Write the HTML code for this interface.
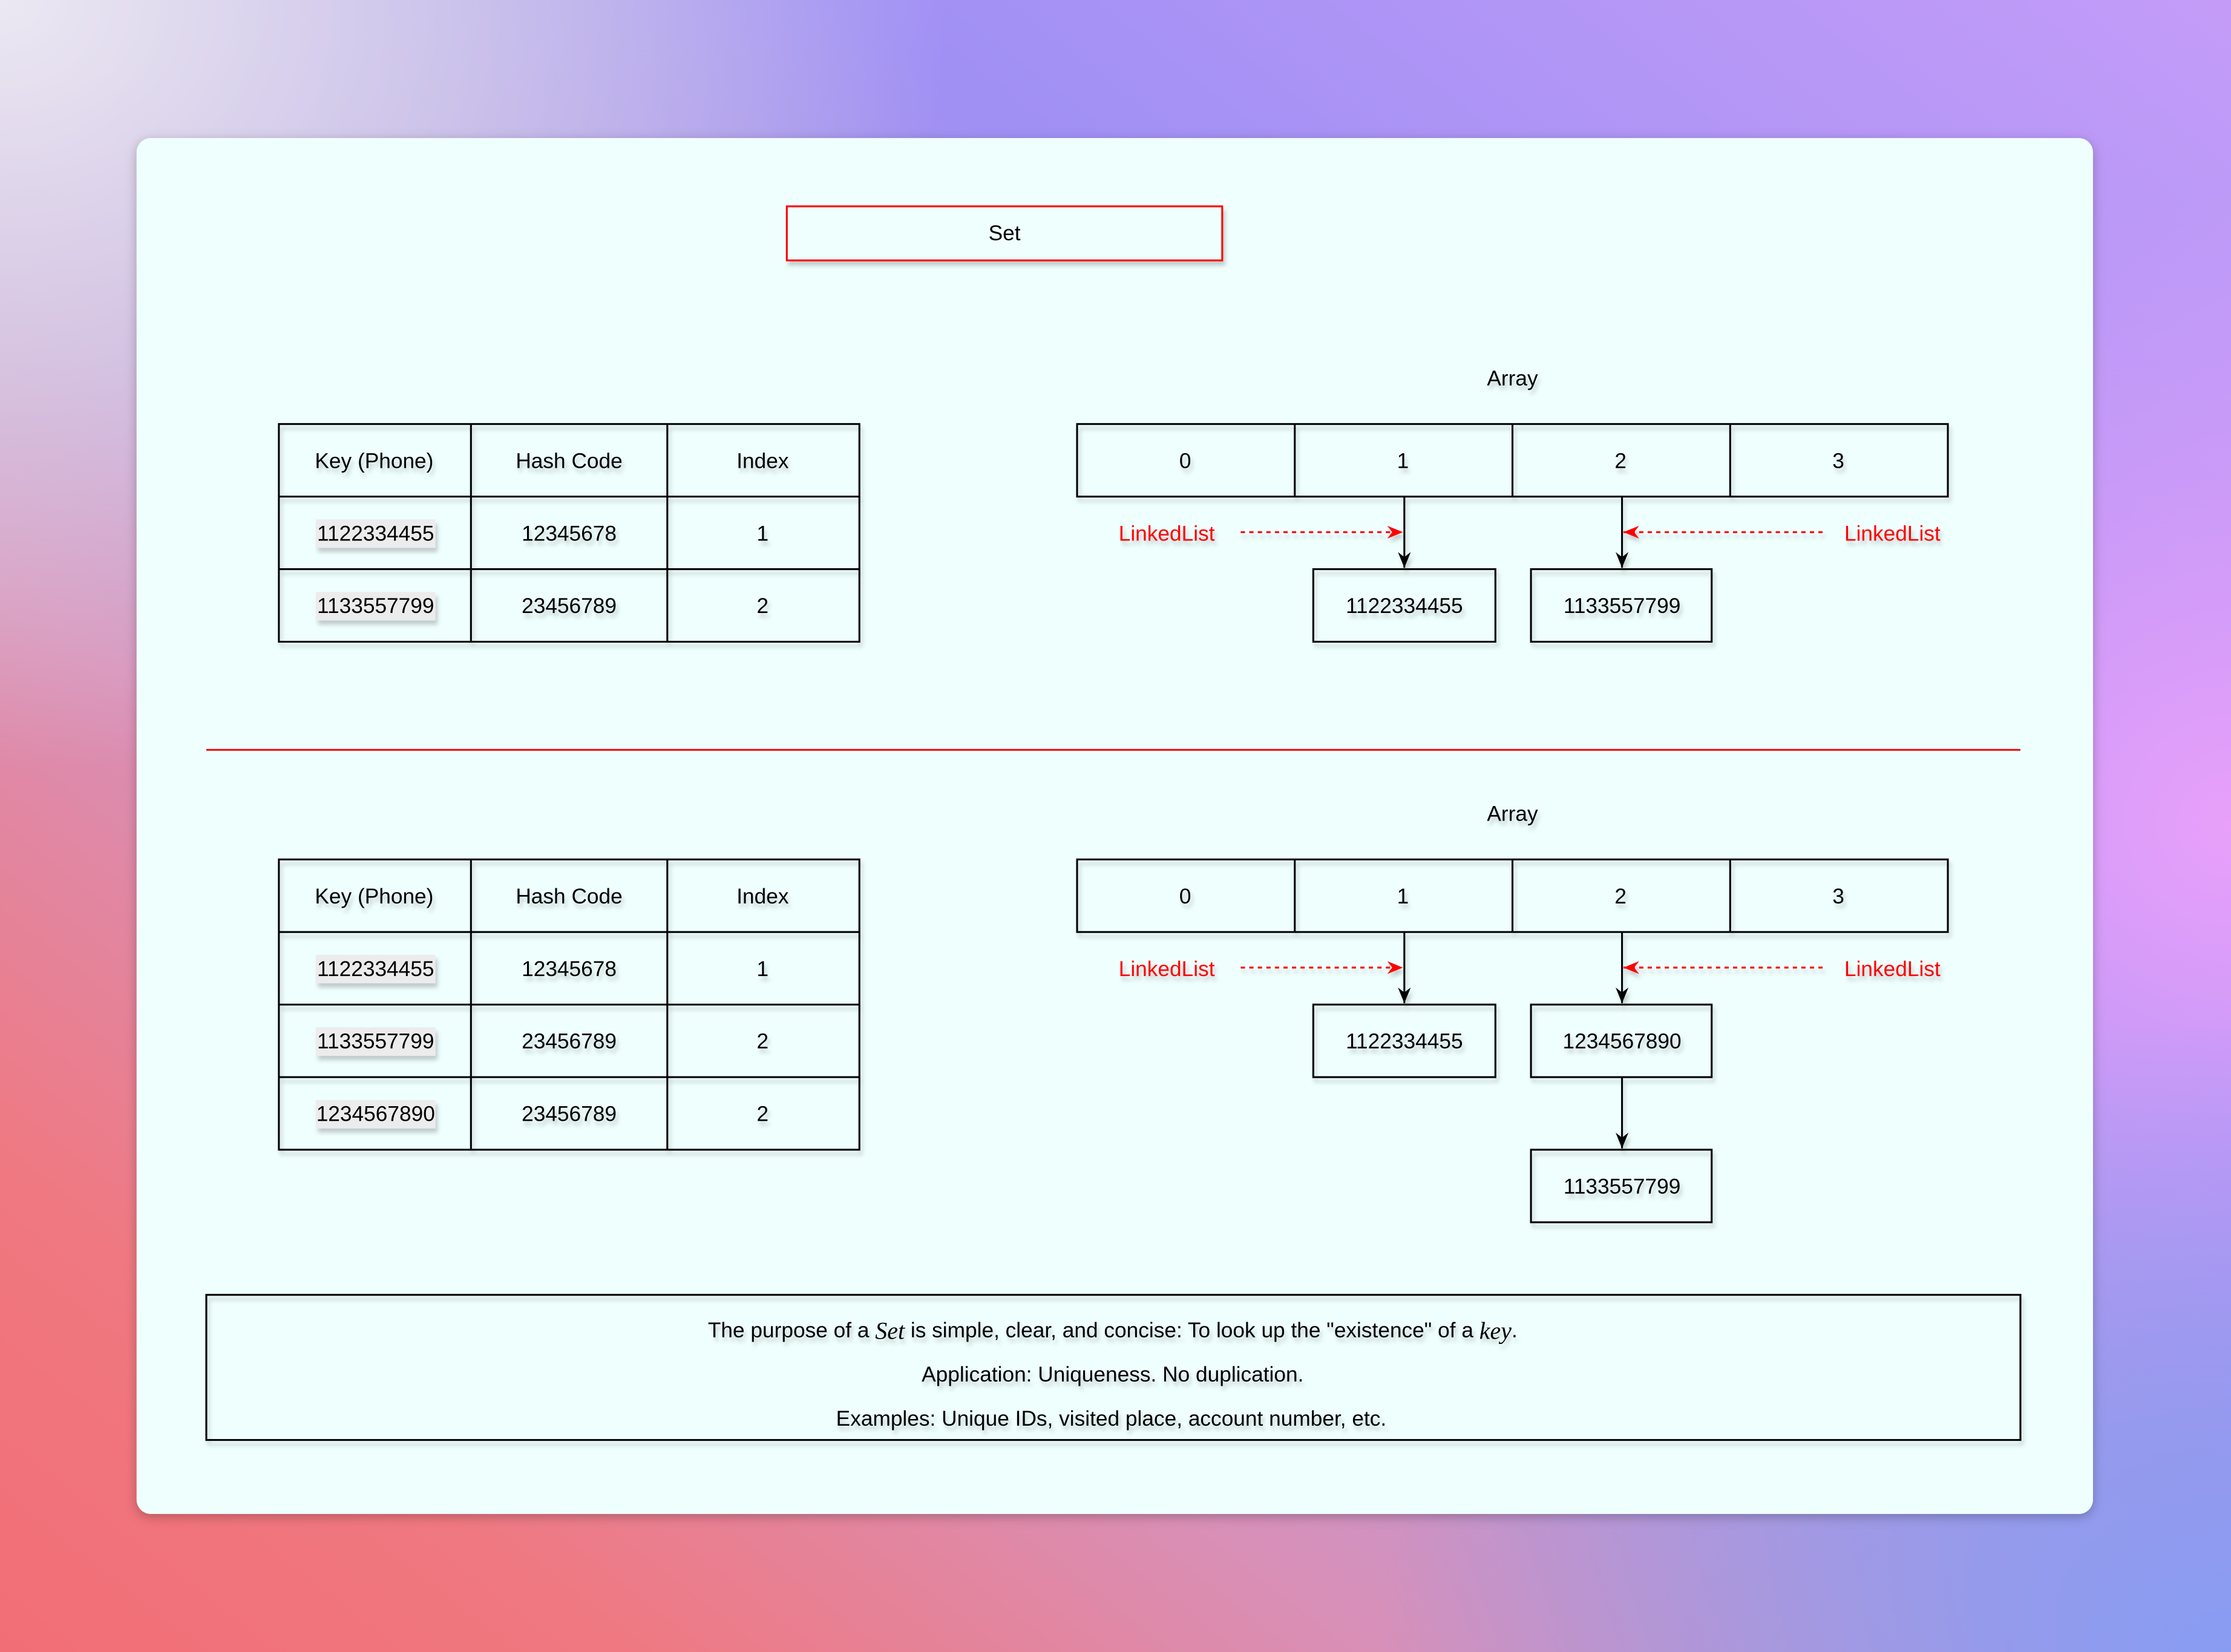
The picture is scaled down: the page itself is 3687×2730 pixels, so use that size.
<!DOCTYPE html>
<html><head><meta charset="utf-8">
<style>
html,body{margin:0;padding:0;width:3687px;height:2730px;overflow:hidden}
body{background:
 radial-gradient(ellipse 50% 55% at 0% 0%, rgba(236,232,242,1) 0%, rgba(220,216,236,0.7) 40%, rgba(236,232,242,0) 85%),
 radial-gradient(ellipse 45% 45% at 100% 100%, rgba(136,156,242,1) 0%, rgba(136,156,242,0) 85%),
 radial-gradient(ellipse 35% 45% at 100% 50%, rgba(232,160,250,1) 0%, rgba(232,160,250,0) 85%),
 linear-gradient(38deg,#f26e76 0%,#f07880 14%,#d890b8 32%,#b098e0 50%,#a090f4 68%,#c49cf8 100%);}
svg{display:block}
text{font-family:"Liberation Sans",Arial,sans-serif;font-size:15px;text-anchor:middle;dominant-baseline:central}
</style></head><body>
<svg width="3687" height="2730" viewBox="0 0 1568 1161" xmlns="http://www.w3.org/2000/svg">
<defs>
<filter id="cs" x="-10%" y="-10%" width="120%" height="120%"><feDropShadow dx="0" dy="2" stdDeviation="4" flood-color="#000" flood-opacity="0.25"/></filter>
<filter id="sh" x="-20%" y="-20%" width="140%" height="160%"><feDropShadow dx="1.5" dy="3" stdDeviation="1.5" flood-color="#000" flood-opacity="0.2"/></filter>
<marker id="ab" markerWidth="12" markerHeight="12" refX="11" refY="6" orient="auto" markerUnits="userSpaceOnUse"><path d="M0,1.5 L11,6 L0,10.5 L3.5,6 Z" fill="#000"/></marker>
<marker id="ar" markerWidth="12" markerHeight="12" refX="11" refY="6" orient="auto" markerUnits="userSpaceOnUse"><path d="M0,1.5 L11,6 L0,10.5 L3.5,6 Z" fill="#f00"/></marker>
</defs>
<rect x="96" y="97" width="1375" height="967" rx="10" fill="#effffe" filter="url(#cs)"/>

<g filter="url(#sh)">
<rect x="553" y="145" width="306" height="38" fill="#effffe" stroke="#f00" stroke-width="1.3"/>
<text x="706" y="164">Set</text>

<g fill="none" stroke="#000" stroke-width="1.3">
<rect x="196" y="298" width="408" height="153"/>
<line x1="331" y1="298" x2="331" y2="451"/><line x1="469" y1="298" x2="469" y2="451"/>
<line x1="196" y1="349" x2="604" y2="349"/><line x1="196" y1="400" x2="604" y2="400"/>
</g>
<text x="263" y="324">Key (Phone)</text><text x="400" y="324">Hash Code</text><text x="536" y="324">Index</text>
<rect x="222" y="365" width="84" height="20" fill="#ececec"/><text x="264" y="375">1122334455</text>
<text x="400" y="375">12345678</text><text x="536" y="375">1</text>
<rect x="222" y="416" width="84" height="20" fill="#ececec"/><text x="264" y="426">1133557799</text>
<text x="400" y="426">23456789</text><text x="536" y="426">2</text>

<text x="1063" y="266">Array</text>
<g fill="none" stroke="#000" stroke-width="1.3">
<rect x="757" y="298" width="612" height="51"/>
<line x1="910" y1="298" x2="910" y2="349"/><line x1="1063" y1="298" x2="1063" y2="349"/><line x1="1216" y1="298" x2="1216" y2="349"/>
<rect x="923" y="400" width="128" height="51"/><rect x="1076" y="400" width="127" height="51"/>
<line x1="987" y1="349" x2="987" y2="399" marker-end="url(#ab)"/>
<line x1="1140" y1="349" x2="1140" y2="399" marker-end="url(#ab)"/>
</g>
<text x="833" y="324">0</text><text x="986" y="324">1</text><text x="1139" y="324">2</text><text x="1292" y="324">3</text>
<text x="987" y="426">1122334455</text><text x="1140" y="426">1133557799</text>
<g stroke="#f00" stroke-width="1.3" stroke-dasharray="3,3" fill="none">
<line x1="872" y1="374" x2="986" y2="374" marker-end="url(#ar)"/>
<line x1="1281" y1="374" x2="1141" y2="374" marker-end="url(#ar)"/>
</g>
<text x="820" y="375" fill="#f00">LinkedList</text><text x="1330" y="375" fill="#f00">LinkedList</text>
</g>

<line x1="145" y1="527" x2="1420" y2="527" stroke="#e00" stroke-width="1.2"/>

<g filter="url(#sh)">
<g fill="none" stroke="#000" stroke-width="1.3">
<rect x="196" y="604" width="408" height="204"/>
<line x1="331" y1="604" x2="331" y2="808"/><line x1="469" y1="604" x2="469" y2="808"/>
<line x1="196" y1="655" x2="604" y2="655"/><line x1="196" y1="706" x2="604" y2="706"/><line x1="196" y1="757" x2="604" y2="757"/>
</g>
<text x="263" y="630">Key (Phone)</text><text x="400" y="630">Hash Code</text><text x="536" y="630">Index</text>
<rect x="222" y="671" width="84" height="20" fill="#ececec"/><text x="264" y="681">1122334455</text>
<text x="400" y="681">12345678</text><text x="536" y="681">1</text>
<rect x="222" y="722" width="84" height="20" fill="#ececec"/><text x="264" y="732">1133557799</text>
<text x="400" y="732">23456789</text><text x="536" y="732">2</text>
<rect x="222" y="773" width="84" height="20" fill="#ececec"/><text x="264" y="783">1234567890</text>
<text x="400" y="783">23456789</text><text x="536" y="783">2</text>

<text x="1063" y="572">Array</text>
<g fill="none" stroke="#000" stroke-width="1.3">
<rect x="757" y="604" width="612" height="51"/>
<line x1="910" y1="604" x2="910" y2="655"/><line x1="1063" y1="604" x2="1063" y2="655"/><line x1="1216" y1="604" x2="1216" y2="655"/>
<rect x="923" y="706" width="128" height="51"/><rect x="1076" y="706" width="127" height="51"/>
<rect x="1076" y="808" width="127" height="51"/>
<line x1="987" y1="655" x2="987" y2="705" marker-end="url(#ab)"/>
<line x1="1140" y1="655" x2="1140" y2="705" marker-end="url(#ab)"/>
<line x1="1140" y1="757" x2="1140" y2="807" marker-end="url(#ab)"/>
</g>
<text x="833" y="630">0</text><text x="986" y="630">1</text><text x="1139" y="630">2</text><text x="1292" y="630">3</text>
<text x="987" y="732">1122334455</text><text x="1140" y="732">1234567890</text><text x="1140" y="834">1133557799</text>
<g stroke="#f00" stroke-width="1.3" stroke-dasharray="3,3" fill="none">
<line x1="872" y1="680" x2="986" y2="680" marker-end="url(#ar)"/>
<line x1="1281" y1="680" x2="1141" y2="680" marker-end="url(#ar)"/>
</g>
<text x="820" y="681" fill="#f00">LinkedList</text><text x="1330" y="681" fill="#f00">LinkedList</text>

<rect x="145" y="910" width="1275" height="102" fill="none" stroke="#000" stroke-width="1.3"/>
<text x="782" y="935">The purpose of a <tspan font-family="Liberation Serif, serif" font-style="italic" font-size="17">Set</tspan> is simple, clear, and concise: To look up the "existence" of a <tspan font-family="Liberation Serif, serif" font-style="italic" font-size="17">key</tspan>.</text>
<text x="782" y="966">Application: Uniqueness. No duplication.</text>
<text x="781" y="997">Examples: Unique IDs, visited place, account number, etc.</text>
</g>
</svg>
</body></html>
